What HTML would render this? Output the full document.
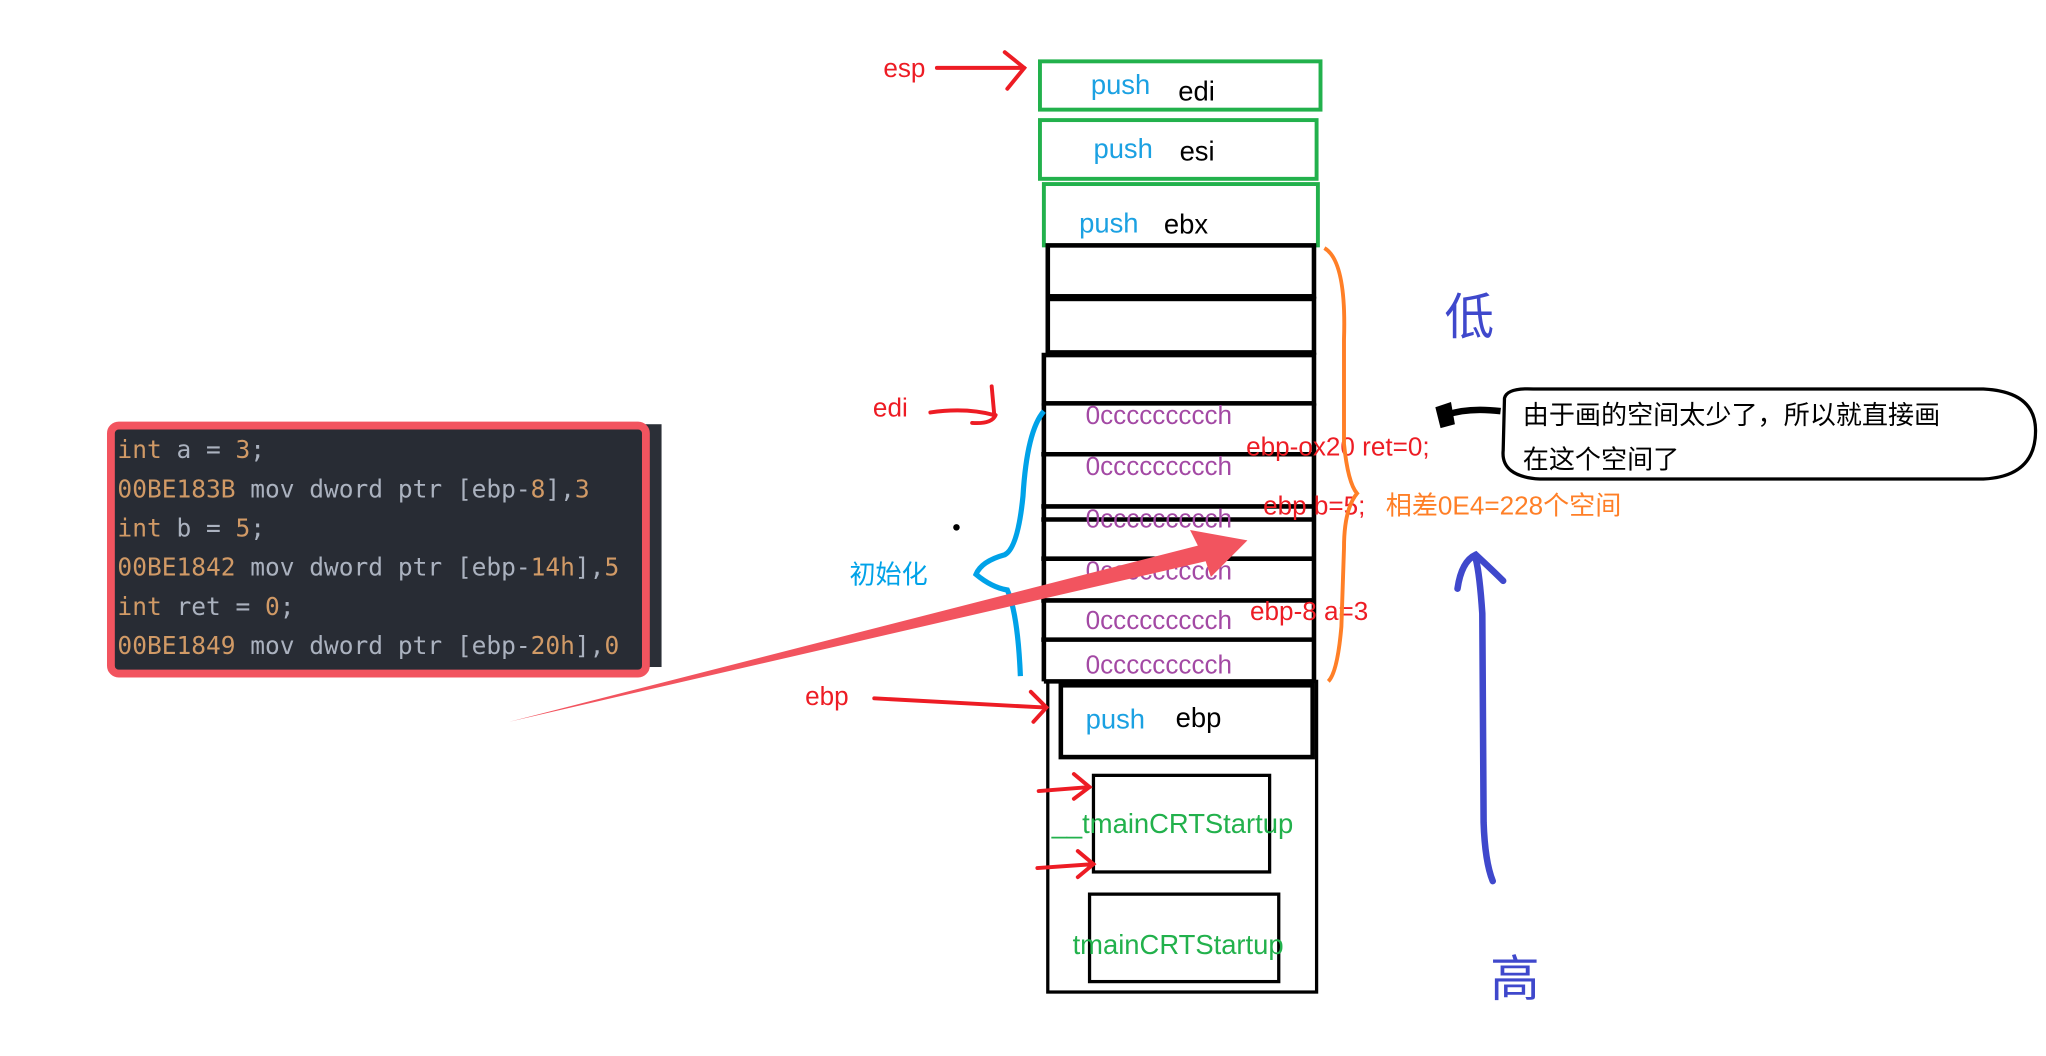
<!DOCTYPE html>
<html><head><meta charset="utf-8"><style>
html,body{margin:0;padding:0;background:#fff;width:2046px;height:1056px;overflow:hidden}
svg{display:block}
text{font-family:"Liberation Sans","Noto Sans CJK SC",sans-serif}
.m text{font-family:"DejaVu Sans Mono","Liberation Mono",monospace;font-size:18.8px}
</style></head><body>
<svg width="2046" height="1056" viewBox="0 0 1568 809" preserveAspectRatio="none" xmlns="http://www.w3.org/2000/svg">
<!-- code panel -->
<rect x="90" y="325" width="417" height="186" fill="#2b2f37"/>
<rect x="85" y="326" width="410" height="190" rx="6" fill="#282c34" stroke="#f2545f" stroke-width="6"/>
<g class="m">
<text x="90" y="351" fill="#d19a66">int <tspan fill="#abb2bf">a = </tspan>3<tspan fill="#abb2bf">;</tspan></text>
<text x="90" y="381" fill="#abb2bf"><tspan fill="#d19a66">00BE183B</tspan> mov dword ptr [ebp-<tspan fill="#d19a66">8</tspan>],<tspan fill="#d19a66">3</tspan></text>
<text x="90" y="411" fill="#d19a66">int <tspan fill="#abb2bf">b = </tspan>5<tspan fill="#abb2bf">;</tspan></text>
<text x="90" y="441" fill="#abb2bf"><tspan fill="#d19a66">00BE1842</tspan> mov dword ptr [ebp-<tspan fill="#d19a66">14h</tspan>],<tspan fill="#d19a66">5</tspan></text>
<text x="90" y="471" fill="#d19a66">int <tspan fill="#abb2bf">ret = </tspan>0<tspan fill="#abb2bf">;</tspan></text>
<text x="90" y="501" fill="#abb2bf"><tspan fill="#d19a66">00BE1849</tspan> mov dword ptr [ebp-<tspan fill="#d19a66">20h</tspan>],<tspan fill="#d19a66">0</tspan></text>
</g>
<!-- green boxes -->
<g fill="none" stroke="#22b14c" stroke-width="3">
<rect x="797" y="47" width="215" height="37"/>
<rect x="797" y="92" width="212" height="45"/>
<rect x="800" y="141" width="210" height="47"/>
</g>
<g font-size="21">
<text x="836" y="72" fill="#1ba1e2">push</text><text x="903" y="77" fill="#000">edi</text>
<text x="838" y="121" fill="#1ba1e2">push</text><text x="904" y="123" fill="#000">esi</text>
<text x="827" y="178" fill="#1ba1e2">push</text><text x="892" y="179" fill="#000">ebx</text>
</g>
<!-- stack rows -->
<g fill="none" stroke="#000" stroke-width="3.5">
<rect x="803" y="188" width="204" height="39"/>
<rect x="803" y="229" width="204" height="41"/>
<rect x="800" y="272" width="207" height="37"/>
<line x1="800" y1="309" x2="800" y2="522"/><line x1="1007" y1="309" x2="1007" y2="522"/>
<line x1="798" y1="348" x2="1007" y2="348"/><line x1="798" y1="388" x2="1007" y2="388"/>
<line x1="798" y1="398" x2="1007" y2="398"/>
<line x1="798" y1="428" x2="1007" y2="428"/><line x1="798" y1="460" x2="1007" y2="460"/>
<line x1="798" y1="490" x2="1007" y2="490"/><line x1="800" y1="522" x2="1007" y2="522"/>
<rect x="803" y="522" width="206" height="238" stroke-width="2.5"/>
<rect x="813" y="525" width="193" height="55"/>
<rect x="838" y="594" width="135" height="74" stroke-width="2.5"/>
<rect x="835" y="685" width="145" height="67" stroke-width="2.5"/>
</g>
<g font-size="20" fill="#a349a4">
<text x="832" y="325">0ccccccccch</text>
<text x="832" y="364">0ccccccccch</text>
<text x="832" y="404">0ccccccccch</text>
<text x="832" y="444">0ccccccccch</text>
<text x="832" y="482">0ccccccccch</text>
<text x="832" y="516">0ccccccccch</text>
</g>
<text x="832" y="558" font-size="21" fill="#1ba1e2">push</text><text x="901" y="557" font-size="21" fill="#000">ebp</text>
<text x="806" y="638" font-size="21" fill="#22b14c">__tmainCRTStartup</text>
<text x="822" y="731" font-size="21" fill="#22b14c">tmainCRTStartup</text>
<!-- red labels -->
<g font-size="20" fill="#ed1c24">
<text x="677" y="59">esp</text>
<text x="669" y="319">edi</text>
<text x="617" y="540">ebp</text>
<text x="955" y="349">ebp-ox20  ret=0;</text>
<text x="968" y="394">ebp   b=5;</text>
<text x="958" y="475">ebp-8  a=3</text>
</g>
<text x="1062" y="394" font-size="20" fill="#ff7f27">相差0E4=228个空间</text>
<!-- red arrows -->
<g fill="none" stroke="#ed1c24" stroke-width="3" stroke-linecap="round">
<path d="M718 52 L785 52 M770 40 L785 52 L772 68"/>
<path d="M713 316 Q740 312 762 318 L760 296 M745 324 Q760 325 763 318"/>
<path d="M670 535 L800 542 M790 530 L802 542 L792 553"/>
<path d="M796 606 L835 603 M823 593 L835 603 L823 612"/>
<path d="M795 665 L838 662 M826 652 L838 662 L826 672"/>
</g>
<!-- braces -->
<path d="M800 315 Q787 330 784 380 Q780 420 770 425 Q752 430 748 440 Q760 450 772 452 Q780 470 782 518" fill="none" stroke="#00a2e8" stroke-width="4"/>
<text x="651" y="447" font-size="20" fill="#00a2e8">初始化</text>
<path d="M1015 190 Q1032 200 1030 260 L1030 340 Q1033 370 1040 378 Q1030 390 1030 420 L1028 480 Q1025 515 1018 522" fill="none" stroke="#ff7f27" stroke-width="3"/>
<circle cx="733" cy="404" r="2.5" fill="#000"/>
<!-- big red arrow -->
<polygon points="390,553 918,418 912,406 956,414 928,442 924,430" fill="#f2545f"/>
<!-- blue -->
<text x="1107" y="256" font-size="38" fill="#3f48cc">低</text>
<text x="1142" y="763" font-size="38" fill="#3f48cc">高</text>
<path d="M1144 675 Q1138 660 1137 630 L1136 470 Q1134 440 1131 428 M1117 451 Q1120 430 1131 425 Q1145 438 1152 445" fill="none" stroke="#3f48cc" stroke-width="5" stroke-linecap="round"/>
<!-- callout -->
<path d="M1153 305 Q1155 297 1175 298 L1520 298 Q1560 300 1560 330 Q1560 365 1520 367 L1180 367 Q1150 365 1152 345 Z" fill="#fff" stroke="#000" stroke-width="2.5"/>
<path d="M1150 315 Q1125 312 1108 318" stroke="#000" stroke-width="5" fill="none"/>
<path d="M1100 312 L1112 308 L1115 325 L1104 328 Z" fill="#000"/>
<text x="1167" y="325" font-size="20" fill="#000">由于画的空间太少了，所以就直接画</text>
<text x="1167" y="359" font-size="20" fill="#000">在这个空间了</text>
</svg>
</body></html>
